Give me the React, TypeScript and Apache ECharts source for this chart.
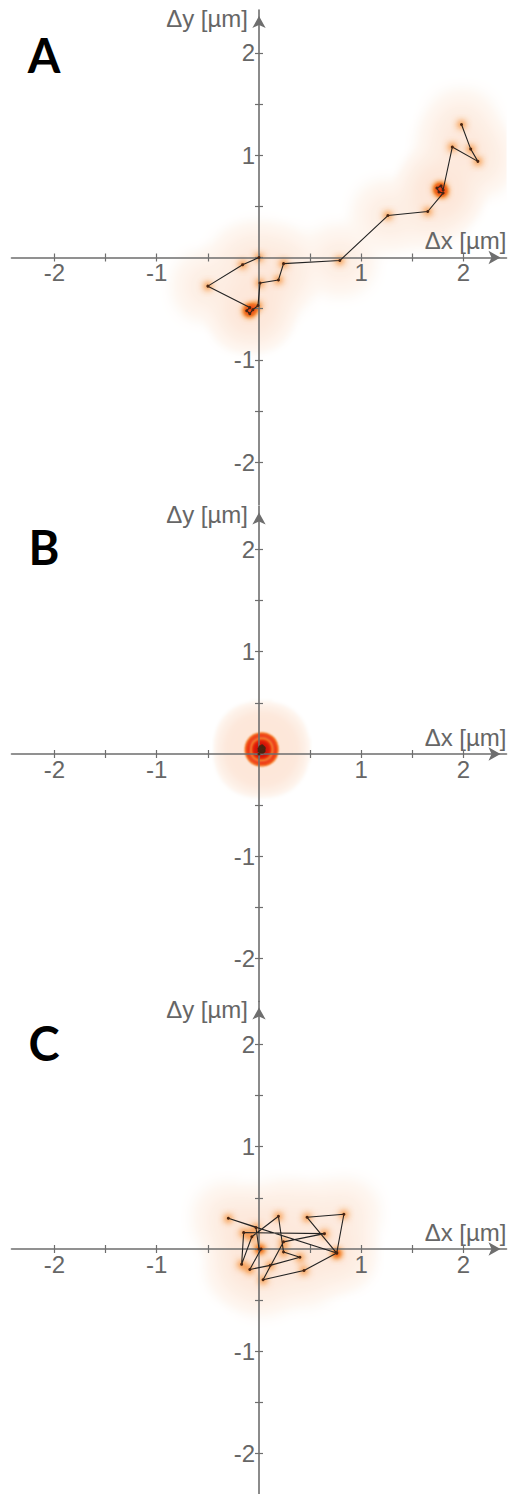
import React, { useEffect, useRef } from "react";
import * as echarts from "echarts";

// Displacement tracks (µm) of three particles, one vertex per frame.
const trackA: number[][] = [
  [0.0, 0.0], [-0.16, -0.07], [-0.5, -0.28], [-0.09, -0.49], [-0.12, -0.52],
  [-0.09, -0.55], [-0.06, -0.51], [-0.01, -0.47], [0.01, -0.25], [0.19, -0.22],
  [0.24, -0.06], [0.79, -0.03], [1.26, 0.41], [1.65, 0.45], [1.8, 0.63],
  [1.76, 0.64], [1.74, 0.68], [1.78, 0.7], [1.8, 0.66], [1.89, 1.08],
  [2.14, 0.94], [2.07, 1.06], [1.98, 1.3],
];

const trackB: number[][] = [
  [0.0, 0.0], [0.02, 0.03], [0.04, 0.06], [0.01, 0.07], [0.03, 0.05],
  [0.05, 0.03], [0.02, 0.02], [0.0, 0.05], [0.03, 0.08], [0.04, 0.04],
  [0.01, 0.03], [0.03, 0.02], [0.02, 0.06], [0.05, 0.05], [0.02, 0.04],
  [0.03, 0.05], [0.01, 0.05], [0.04, 0.07], [0.02, 0.05], [0.04, 0.02],
  [0.01, 0.04], [0.03, 0.06], [0.02, 0.03], [0.03, 0.04], [0.05, 0.06],
  [0.02, 0.07], [0.0, 0.03], [0.04, 0.05], [0.03, 0.03], [0.01, 0.06],
  [0.04, 0.03], [0.02, 0.05],
];

const trackC: number[][] = [
  [0.0, 0.0], [-0.03, 0.21], [-0.3, 0.3], [0.76, -0.04], [0.83, 0.34],
  [0.47, 0.31], [0.76, -0.04], [0.44, -0.21], [0.04, -0.3], [0.24, 0.07],
  [0.64, 0.15], [-0.15, 0.16], [-0.17, -0.15], [-0.07, 0.12], [0.19, 0.32],
  [0.24, -0.03], [0.4, -0.08], [0.11, -0.16], [-0.09, -0.2], [0.02, 0.0],
];

const tracks = [trackA, trackB, trackC];
const panelLabels = ["A", "B", "C"];
const tickValues = [-2, -1.5, -1, -0.5, 0, 0.5, 1, 1.5, 2];
const labelValues = [-2, -1, 1, 2];
const axisMin = -2.42;
const axisMax = 2.42;
const xName = "Δx [µm]";
const yName = "Δy [µm]";

// Colour ramps of the density glow (low → high accumulated density)
const haloColors = [
  "#ffffff", "#fefbf8", "#fef8f3", "#fef6f0", "#fef5ee", "#fef4ed",
  "#fef3eb", "#fef2ea", "#fef1e8", "#fdf0e7", "#fdf0e6", "#fdefe5",
  "#fdeee4", "#fdeee3", "#fdede2", "#fdece1", "#fdebdf", "#fdeade",
  "#fde9dc", "#fde8db", "#fde7d9",
];
const blobColors = [
  "#fcd8b8", "#fcd8b8", "#fcd8b8", "#fcd8b8", "#fcd0a8", "#fbbf88",
  "#f79a50", "#f3702a", "#f04414", "#ec2a0a", "#e21e08",
];
const coreColors = [
  "#fbc898", "#f8ac6a", "#f5943f", "#f27f2c", "#ef6620", "#ec4c16",
  "#ea380e", "#e6280a", "#e01e08", "#d81808", "#cc1208",
];

// Layout of the three stacked panels
const PAGE_W = 508;
const PAGE_H = 1494;
const GRID_LEFT = 11.5;
const GRID_SIZE = 495;
const HALF = GRID_SIZE / 2;
const GRID_TOPS = [10, 506.5, 1001.5];
const LETTER_Y = [55, 547, 1043];

const AXIS_COLOR = "#6e6e6e";
const TEXT_COLOR = "#666666";
const FONT = "'Liberation Sans', Arial, sans-serif";
const FONT_SIZE = 24;

echarts.registerMap("field", {
  type: "FeatureCollection",
  features: [
    {
      type: "Feature",
      properties: { name: "field" },
      geometry: {
        type: "Polygon",
        coordinates: [[
          [axisMin, axisMin], [axisMax, axisMin], [axisMax, axisMax],
          [axisMin, axisMax], [axisMin, axisMin],
        ]],
      },
    },
  ],
} as any);

function buildOption() {
  const grids: any[] = [];
  const geos: any[] = [];
  const xAxes: any[] = [];
  const yAxes: any[] = [];
  const halo: any[] = [];
  const blob: any[] = [];
  const core: any[] = [];
  const lines: any[] = [];
  const graphics: any[] = [];

  tracks.forEach((track, i) => {
    const box = { left: GRID_LEFT, top: GRID_TOPS[i], width: GRID_SIZE, height: GRID_SIZE };
    grids.push({ ...box, containLabel: false, outerBoundsMode: "none" });
    geos.push({
      map: "field",
      ...box,
      aspectScale: 1,
      roam: false,
      silent: true,
      z: 0,
      label: { show: false },
      itemStyle: { areaColor: "rgba(0,0,0,0)", borderColor: "rgba(0,0,0,0)", borderWidth: 0 },
      emphasis: { disabled: true },
      select: { disabled: true },
    });

    const tick = { show: true, customValues: tickValues, length: 4, lineStyle: { color: AXIS_COLOR, width: 1.2 } };
    const labelStyle = { color: TEXT_COLOR, fontSize: FONT_SIZE, fontFamily: FONT };
    const arrowLine = {
      show: true,
      onZero: false,
      symbol: ["none", "arrow"],
      symbolSize: [10, 12],
      symbolOffset: [0, -6],
      lineStyle: { color: AXIS_COLOR, width: 1.6 },
    };

    // Axes cross at the origin: shifted inward by half the plot size
    xAxes.push({
      gridIndex: i,
      type: "value",
      min: axisMin,
      max: axisMax,
      position: "bottom",
      offset: -HALF,
      z: 10,
      axisLine: arrowLine,
      axisTick: tick,
      axisLabel: { customValues: labelValues, margin: 3, ...labelStyle },
      splitLine: { show: false },
      name: xName,
      nameLocation: "end",
      nameGap: 0,
      nameMoveOverlap: false,
      nameTextStyle: { ...labelStyle, align: "right", verticalAlign: "bottom", padding: [0, 0, 5, 0] },
    });
    xAxes.push({
      gridIndex: i,
      type: "value",
      min: axisMin,
      max: axisMax,
      position: "top",
      offset: -HALF,
      z: 10,
      axisLine: { show: false, onZero: false },
      axisTick: tick,
      axisLabel: { show: false },
      splitLine: { show: false },
    });
    yAxes.push({
      gridIndex: i,
      type: "value",
      min: axisMin,
      max: axisMax,
      position: "left",
      offset: -HALF,
      z: 10,
      axisLine: arrowLine,
      axisTick: tick,
      axisLabel: { customValues: labelValues, margin: 4, ...labelStyle },
      splitLine: { show: false },
      name: yName,
      nameLocation: "end",
      nameGap: -8,
      nameMoveOverlap: false,
      nameTextStyle: { ...labelStyle, align: "right", verticalAlign: "middle", padding: [0, 11, 0, 0] },
    });
    yAxes.push({
      gridIndex: i,
      type: "value",
      min: axisMin,
      max: axisMax,
      position: "right",
      offset: -HALF,
      z: 10,
      axisLine: { show: false, onZero: false },
      axisTick: tick,
      axisLabel: { show: false },
      splitLine: { show: false },
    });

    const frames = track.map((p) => [p[0], p[1], 1]);
    halo.push({
      type: "heatmap", coordinateSystem: "geo", geoIndex: i, data: frames,
      pointSize: 20, blurSize: 28, minOpacity: 1, maxOpacity: 1, z: 2, silent: true,
    });
    blob.push({
      type: "heatmap", coordinateSystem: "geo", geoIndex: i, data: frames,
      pointSize: 10, blurSize: 16, minOpacity: -2.5, maxOpacity: 2.5, z: 3, silent: true,
    });
    core.push({
      type: "heatmap", coordinateSystem: "geo", geoIndex: i, data: frames,
      pointSize: 3, blurSize: 8, minOpacity: 0, maxOpacity: 3, z: 4, silent: true,
    });
    lines.push({
      type: "line",
      xAxisIndex: 2 * i,
      yAxisIndex: 2 * i,
      data: track,
      z: 12,
      silent: true,
      clip: false,
      symbol: "circle",
      symbolSize: 3,
      showSymbol: true,
      itemStyle: { color: "#4a2410", borderWidth: 0 },
      lineStyle: { color: "#222222", width: 1.1 },
    });

    graphics.push({
      type: "text",
      x: 44,
      y: LETTER_Y[i],
      z: 20,
      style: {
        text: panelLabels[i],
        fill: "#000000",
        fontFamily: "Lato, 'Open Sans', sans-serif",
        fontWeight: "bold",
        fontSize: 47,
        align: "center",
        verticalAlign: "middle",
      },
    });
  });

  const series = [...halo, ...blob, ...core, ...lines];
  return {
    animation: false,
    backgroundColor: "#ffffff",
    grid: grids,
    geo: geos,
    xAxis: xAxes,
    yAxis: yAxes,
    visualMap: [
      { type: "continuous", show: false, seriesIndex: [0, 1, 2], min: 0, max: 1, inRange: { color: haloColors } },
      { type: "continuous", show: false, seriesIndex: [3, 4, 5], min: 0, max: 3, inRange: { color: blobColors } },
      { type: "continuous", show: false, seriesIndex: [6, 7, 8], min: 0, max: 1, inRange: { color: coreColors } },
    ],
    series,
    graphic: graphics,
  };
}

export default function App() {
  const ref = useRef<HTMLDivElement>(null);
  useEffect(() => {
    if (!ref.current) return;
    const chart = echarts.init(ref.current, undefined, { renderer: "svg" });
    chart.setOption(buildOption() as any);
    return () => chart.dispose();
  }, []);
  return (
    <div
      ref={ref}
      style={{ position: "absolute", left: 0, top: 0, width: PAGE_W, height: PAGE_H, background: "#fff" }}
    />
  );
}
